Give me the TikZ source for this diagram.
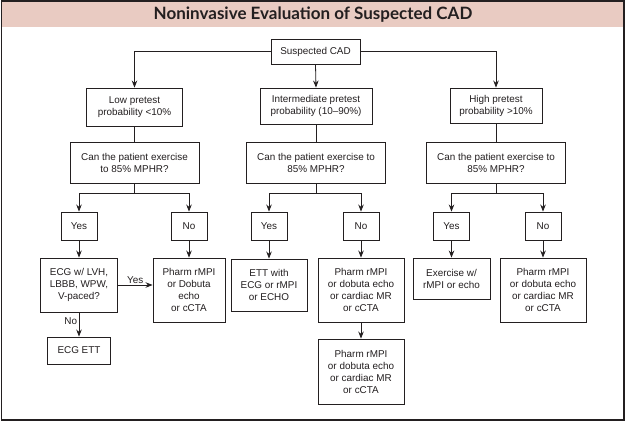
\documentclass[tikz,border=0pt]{standalone}
\usepackage{fontspec}
\setmainfont{Liberation Sans}
\newfontfamily\titlefont{Lato}
\usetikzlibrary{arrows.meta,calc,positioning}
\definecolor{cadink}{HTML}{231F20}
\definecolor{cadhead}{HTML}{E9CBC2}

\begin{document}
\begin{tikzpicture}[x=1pt,y=-1pt,>={Stealth[length=7pt,width=5.5pt]},
  font=\fontsize{9.9}{12}\selectfont,text=cadink,
  box/.style={draw=cadink,line width=.9pt,align=center,inner sep=0pt},
  choice/.style={box,minimum width=36pt,minimum height=28pt},
  link/.style={cadink,line width=.8pt},
  lbl/.style={inner sep=1.5pt}]
\path[use as bounding box] (0,0) rectangle (626,421);
\fill[white] (0,0) rectangle (626,421);
\fill[cadhead] (1.5,1) rectangle (625,27);
\draw[cadink,line width=1.5pt] (1.5,1) rectangle (624,420);
\node[font=\titlefont\fontsize{17}{18}\selectfont\bfseries] (title) at (313,14.5) {Noninvasive Evaluation of Suspected CAD};

% top and pretest probability
\node[box,minimum width=89pt,minimum height=25pt] (cad) at (315.5,51.5) {Suspected CAD};
\node[box,minimum width=96pt,minimum height=38pt] (low) at (134.5,107) {Low pretest\\probability <10\%};
\node[box,minimum width=112pt,minimum height=36pt] (mid) at (316,106) {Intermediate pretest\\probability (10--90\%)};
\node[box,minimum width=92pt,minimum height=35pt] (high) at (496,105.5) {High pretest\\probability >10\%};

% exercise questions
\node[box,minimum width=129pt,minimum height=41pt] (qlow) at (134.5,162.5) {Can the patient exercise\\to 85\% MPHR?};
\node[box,minimum width=139pt,minimum height=41pt] (qmid) at (316,162.5) {Can the patient exercise to\\85\% MPHR?};
\node[box,minimum width=139pt,minimum height=41pt] (qhigh) at (496,162.5) {Can the patient exercise to\\85\% MPHR?};

% yes / no
\node[choice] (yeslow) at (79,226) {Yes};
\node[choice] (nolow) at (189,226) {No};
\node[choice] (yesmid) at (269,226) {Yes};
\node[choice] (nomid) at (361,226) {No};
\node[choice] (yeshigh) at (451.5,226) {Yes};
\node[choice] (nohigh) at (543,226) {No};

% tests
\node[box,minimum width=77pt,minimum height=54pt] (ecg) at (79,285) {ECG w/ LVH,\\LBBB, WPW,\\V-paced?};
\node[box,minimum width=72pt,minimum height=64pt] (pharmlow) at (189,290) {Pharm rMPI\\or Dobuta\\echo\\or cCTA};
\node[box,minimum width=76pt,minimum height=52pt] (ett) at (269,285) {ETT with\\ECG or rMPI\\or ECHO};
\node[box,minimum width=86pt,minimum height=64pt] (pharmmid) at (361,290) {Pharm rMPI\\or dobuta echo\\or cardiac MR\\or cCTA};
\node[box,minimum width=77pt,minimum height=41pt] (exhigh) at (451.5,278.5) {Exercise w/\\rMPI or echo};
\node[box,minimum width=86pt,minimum height=64pt] (pharmhigh) at (543,290) {Pharm rMPI\\or dobuta echo\\or cardiac MR\\or cCTA};
\node[box,minimum width=63pt,minimum height=27pt] (ecgett) at (79,350.5) {ECG ETT};
\node[box,minimum width=86pt,minimum height=65pt] (pharmnext) at (361,371.5) {Pharm rMPI\\or dobuta echo\\or cardiac MR\\or cCTA};

% connectors
\draw[link,->] (cad.west) -| (low.north);
\draw[link,->] (cad.south) -- (mid.north);
\draw[link,->] (cad.east) -| (high.north);
\draw[link] (low.south) -- (qlow.north);
\draw[link] (mid.south) -- (qmid.north);
\draw[link] (high.south) -- (qhigh.north);
\draw[link,->] (qlow.south) -- ++(0,10) -| (yeslow.north);
\draw[link,->] (qlow.south) -- ++(0,10) -| (nolow.north);
\draw[link,->] (qmid.south) -- ++(0,10) -| (yesmid.north);
\draw[link,->] (qmid.south) -- ++(0,10) -| (nomid.north);
\draw[link,->] (qhigh.south) -- ++(0,10) -| (yeshigh.north);
\draw[link,->] (qhigh.south) -- ++(0,10) -| (nohigh.north);
\draw[link,->] (yeslow) -- (ecg);
\draw[link,->] (nolow) -- (pharmlow);
\draw[link,->] (yesmid) -- (ett);
\draw[link,->] (nomid) -- (pharmmid);
\draw[link,->] (yeshigh) -- (exhigh);
\draw[link,->] (nohigh) -- (pharmhigh);
\draw[link,->] (ecg.east) -- (ecg.east -| pharmlow.west) node[lbl,midway,above] {Yes};
\draw[link,->] (ecg.south) -- (ecgett.north) node[lbl,pos=.35,left] {No};
\draw[link,->] (pharmmid) -- (pharmnext);
\end{tikzpicture}
\end{document}
